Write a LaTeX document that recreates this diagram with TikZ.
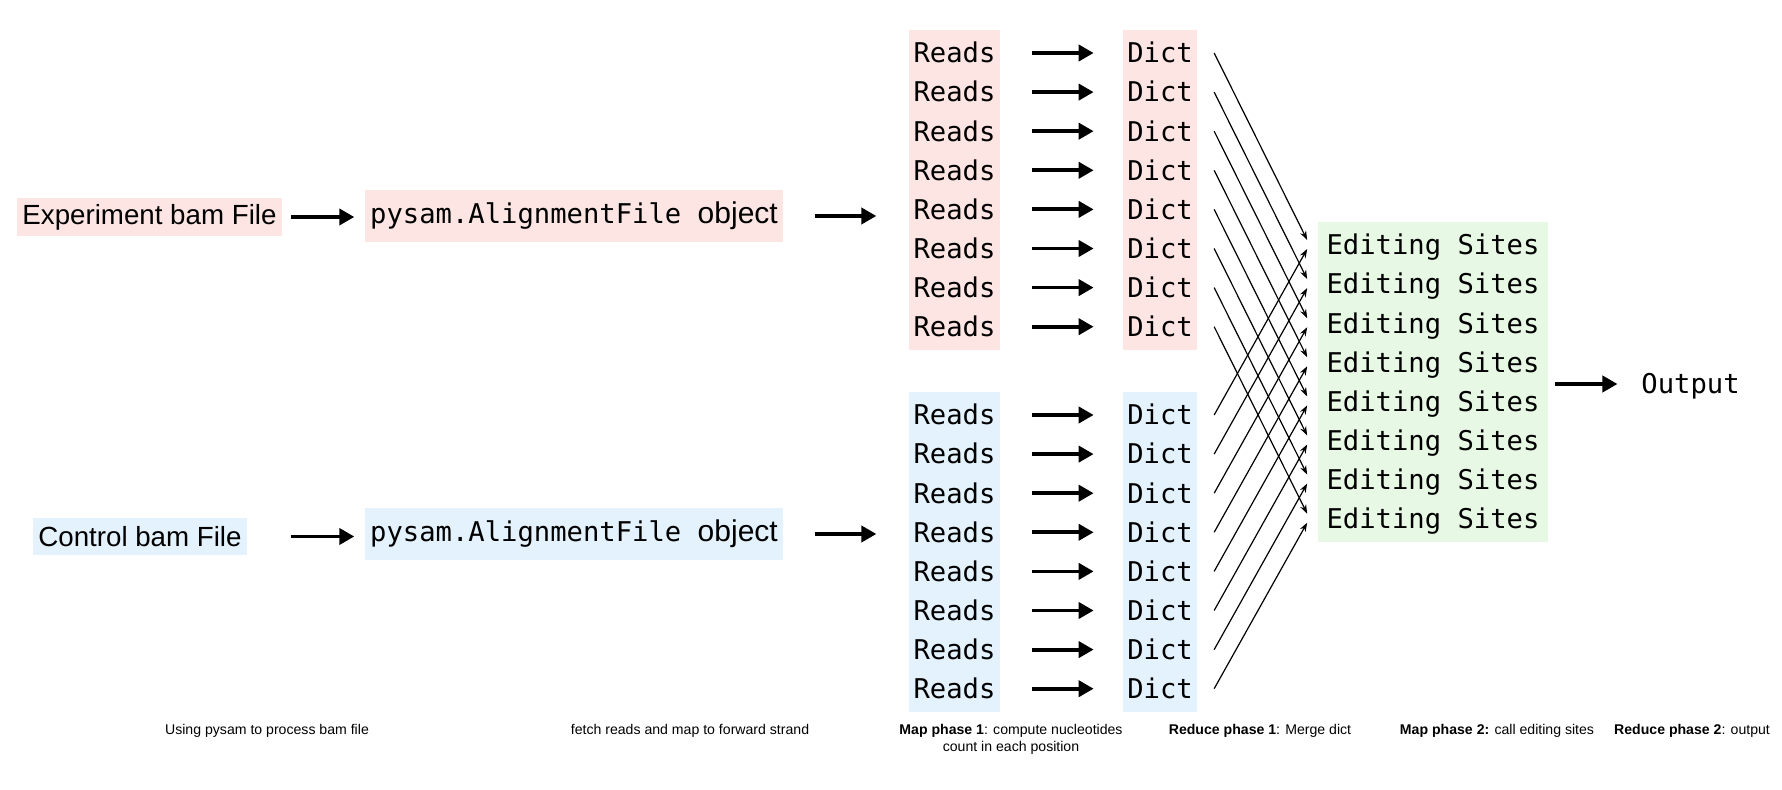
\documentclass[tikz,border=0pt]{standalone}
\usepackage{fontspec}
\setmainfont{Liberation Sans}
\setmonofont{DejaVu Sans Mono}
\usetikzlibrary{arrows.meta,calc,fit,backgrounds}
\definecolor{exppink}{RGB}{252,229,226}
\definecolor{ctlblue}{RGB}{227,242,252}
\definecolor{sitegreen}{RGB}{231,249,228}
\def\codefont{\ttfamily\fontsize{13.6}{16}\selectfont}

\begin{document}
\begin{tikzpicture}[x=0.5pt, y=-0.5pt,
	filebox/.style={font=\fontsize{13.85}{16}\selectfont, inner xsep=2.75pt, inner ysep=0pt},
	objbox/.style={inner xsep=2.75pt, inner ysep=0pt, minimum height=26pt},
	cell/.style={font=\codefont, inner sep=0pt, text height=9.9pt, text depth=0pt, minimum height=19.55pt},
	bigarrow/.style={line width=1.9pt, -{Triangle[length=7.5pt,width=8pt]}},
	mergearrow/.style={line width=0.6pt, -{Stealth[length=4.5pt,width=3.2pt]}},
	caption/.style={font=\fontsize{7.05}{8.2}\selectfont, align=center, anchor=north, inner sep=0pt}]
	%%%%% START %%%%%
	
	\useasboundingbox (0,0) rectangle (1782,790);
	
	\node[filebox, fill=exppink, minimum height=19pt] (expbam) at (149.5, 217) {Experiment bam File};
	\node[filebox, fill=ctlblue, minimum height=18.5pt] (ctlbam) at (140, 536.5) {Control bam File};
	
	\node[objbox, fill=exppink] (expobj) at (574, 216) {{\codefont pysam.AlignmentFile }{\fontsize{15}{18}\selectfont object}};
	\node[objbox, fill=ctlblue] (ctlobj) at (574, 534) {{\codefont pysam.AlignmentFile }{\fontsize{15}{18}\selectfont object}};
	
	\foreach \i in {1,...,8}{
		\node[cell] (er\i) at (954.5, {53+(\i-1)*39.1}) {Reads};
		\node[cell] (ed\i) at (1160, {53+(\i-1)*39.1}) {Dict};
		\node[cell] (cr\i) at (954.5, {415+(\i-1)*39.1}) {Reads};
		\node[cell] (cd\i) at (1160, {415+(\i-1)*39.1}) {Dict};
		\node[cell] (es\i) at (1433, {245+(\i-1)*39.1}) {Editing Sites};
	}
	
	\begin{scope}[on background layer]
		\node[fit=(er1)(er8), fill=exppink, inner xsep=2.2pt, inner ysep=1.5pt] (ercol) {};
		\node[fit=(ed1)(ed8), fill=exppink, inner xsep=2.1pt, inner ysep=1.5pt] (edcol) {};
		\node[fit=(cr1)(cr8), fill=ctlblue, inner xsep=2.2pt, inner ysep=1.5pt] (crcol) {};
		\node[fit=(cd1)(cd8), fill=ctlblue, inner xsep=2.1pt, inner ysep=1.5pt] (cdcol) {};
		\node[fit=(es1)(es8), fill=sitegreen, inner xsep=4pt, inner ysep=1.5pt] (escol) {};
	\end{scope}
	
	\node[cell] (out) at (1690.5, 384) {Output};
	
	\draw[bigarrow, shorten <=4.5pt, shorten >=5pt] (expbam.east) -- (expbam.east -| expobj.west);
	\draw[bigarrow, shorten <=21.5pt, shorten >=5pt] (ctlbam.east) -- (ctlbam.east -| ctlobj.west);
	\draw[bigarrow, shorten <=15.5pt, shorten >=16pt] (expobj.east) -- (expobj.east -| ercol.west);
	\draw[bigarrow, shorten <=15.5pt, shorten >=16pt] (ctlobj.east) -- (ctlobj.east -| crcol.west);
	
	\foreach \i in {1,...,8}{
		\draw[bigarrow, shorten <=18.25pt, shorten >=16.6pt] (er\i) -- (ed\i);
		\draw[bigarrow, shorten <=18.25pt, shorten >=16.6pt] (cr\i) -- (cd\i);
		\draw[mergearrow] ($(ed\i.east)+(21,0)$) -- ($(es\i.west)+(-19,-5)$);
		\draw[mergearrow] ($(cd\i.east)+(21,0)$) -- ($(es\i.west)+(-19,4)$);
	}
	
	\draw[bigarrow, shorten <=3.5pt, shorten >=11.75pt] (escol.east |- out) -- (out);
	
	\node[caption] (capfile) at (267, 724) {Using pysam to process bam file};
	\node[caption] (capfetch) at (690, 724) {fetch reads and map to forward strand};
	\node[caption] (capmapa) at (1011, 724) {\textbf{Map phase 1}: compute nucleotides\\count in each position};
	\node[caption] (capreda) at (1260, 724) {\textbf{Reduce phase 1}: Merge dict};
	\node[caption] (capmapb) at (1497, 724) {\textbf{Map phase 2:} call editing sites};
	\node[caption] (capredb) at (1692, 724) {\textbf{Reduce phase 2}: output};
	
	%%%%% END %%%%%
\end{tikzpicture}
\end{document}
